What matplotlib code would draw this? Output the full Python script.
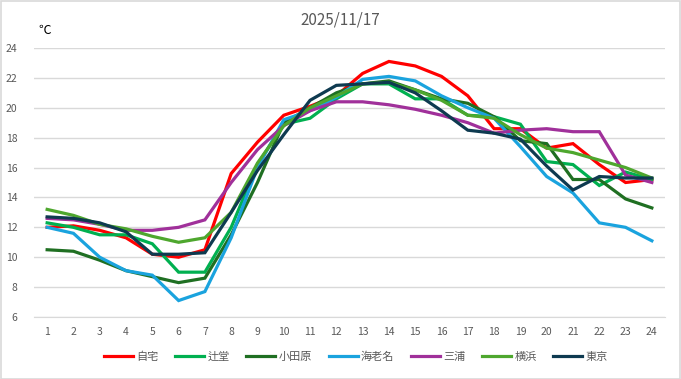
import matplotlib
matplotlib.use("Agg")
import matplotlib.pyplot as plt
from matplotlib.patches import Rectangle

plt.rcParams['font.family'] = ['Noto Sans CJK JP', 'DejaVu Sans']

hours = list(range(1, 25))
title = "2025/11/17"
unit = "℃"

series_names = ["自宅", "辻堂", "小田原", "海老名", "三浦", "横浜", "東京"]

jitaku = [12.0, 12.1, 11.8, 11.3, 10.2, 10.0, 10.5, 15.6, 17.7, 19.5, 20.1, 20.8,
          22.3, 23.1, 22.8, 22.1, 20.8, 18.6, 18.6, 17.3, 17.6, 16.2, 15.0, 15.2]
tsujido = [12.3, 12.0, 11.5, 11.5, 10.9, 9.0, 9.0, 12.0, 16.2, 18.9, 19.3, 20.6,
           21.6, 21.6, 20.6, 20.6, 19.5, 19.4, 18.9, 16.4, 16.2, 14.8, 15.7, 15.2]
odawara = [10.5, 10.4, 9.8, 9.1, 8.7, 8.3, 8.6, 11.5, 15.0, 19.0, 20.0, 21.0,
           21.6, 21.8, 21.2, 20.6, 20.3, 19.4, 17.8, 17.6, 15.2, 15.2, 13.9, 13.3]
ebina = [12.0, 11.6, 10.0, 9.1, 8.8, 7.1, 7.7, 11.3, 16.0, 19.2, 19.8, 20.7,
         21.9, 22.1, 21.8, 20.8, 20.0, 19.3, 17.4, 15.4, 14.3, 12.3, 12.0, 11.1]
miura = [12.6, 12.5, 12.2, 11.8, 11.8, 12.0, 12.5, 15.0, 17.2, 18.8, 19.8, 20.4,
         20.4, 20.2, 19.9, 19.5, 19.0, 18.3, 18.5, 18.6, 18.4, 18.4, 15.5, 15.0]
yokohama = [13.2, 12.8, 12.2, 11.9, 11.4, 11.0, 11.3, 13.0, 16.3, 18.8, 20.0, 20.8,
            21.6, 21.7, 21.2, 20.5, 19.5, 19.3, 18.2, 17.3, 17.0, 16.5, 16.0, 15.3]
tokyo = [12.7, 12.6, 12.3, 11.7, 10.2, 10.2, 10.3, 13.0, 15.8, 18.2, 20.5, 21.5,
         21.6, 21.7, 21.0, 19.8, 18.5, 18.3, 17.9, 16.1, 14.5, 15.4, 15.3, 15.3]

all_values = [jitaku, tsujido, odawara, ebina, miura, yokohama, tokyo]
colors = ["#FF0000", "#00B050", "#1F6F22", "#1AA3DE", "#A0309A", "#4EA72E", "#0E3A50"]

yticks = list(range(6, 25, 2))

fig = plt.figure(figsize=(6.81, 3.79), dpi=100)
fig.patches.append(Rectangle((0.001, 0.001), 0.998, 0.997, transform=fig.transFigure,
                             fill=False, edgecolor="#D9D9D9", linewidth=1.2))
ax = fig.add_axes([34 / 681, (379 - 317) / 379, (665 - 34) / 681, (317 - 48) / 379])

for name, vals, c in zip(series_names, all_values, colors):
    ax.plot(hours, vals, color=c, linewidth=2.3, label=name, solid_joinstyle='miter')

ax.set_xlim(0.5, 24.5)
ax.set_ylim(6, 24)
ax.set_yticks(yticks)
ax.set_xticks(hours)
ax.grid(axis='y', color="#D9D9D9", linewidth=1.0)
ax.set_axisbelow(True)
for s in ["top", "right", "left"]:
    ax.spines[s].set_visible(False)
ax.spines["bottom"].set_color("#D9D9D9")
ax.tick_params(axis='both', length=0, labelsize=7.5, colors="#595959")
ax.tick_params(axis='x', pad=7)
ax.tick_params(axis='y', pad=12)

fig.text(340 / 681, 1 - 20 / 379, title, ha='center', va='center', fontsize=11, color="#595959")
fig.text(38 / 681, 1 - 30 / 379, unit, ha='left', va='center', fontsize=9, color="#000000")

fig.legend(loc='center', bbox_to_anchor=(356 / 681, 1 - 357 / 379), ncol=7, frameon=False,
           fontsize=8, handlelength=2.6, handletextpad=0.3, columnspacing=1.5,
           labelcolor="#595959")

fig.savefig("out.png", dpi=100)
